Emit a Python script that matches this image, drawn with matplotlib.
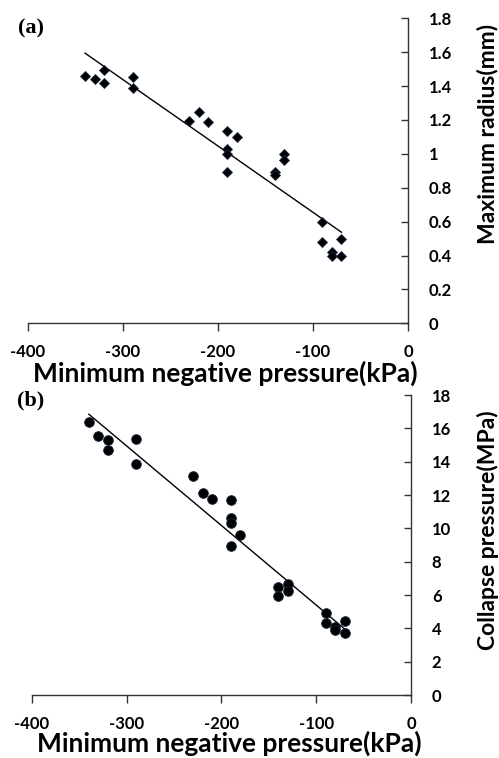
import numpy as np
import matplotlib
matplotlib.use('Agg')
from matplotlib import pyplot as plt

# Minimum negative pressure (kPa)
pressure_a = [-340, -330, -320, -320, -290, -290, -230, -220, -210, -190, -190,
              -190, -190, -180, -140, -140, -130, -130, -90, -90, -80, -80, -70, -70]
# Maximum bubble radius (mm)
radius = [1.46, 1.44, 1.495, 1.42, 1.455, 1.39, 1.195, 1.245, 1.19, 1.135, 1.03,
          1.00, 0.895, 1.10, 0.895, 0.875, 0.999, 0.965, 0.596, 0.478, 0.423,
          0.397, 0.50, 0.397]

pressure_b = [-340, -330, -320, -320, -290, -290, -230, -220, -210, -190, -190,
              -190, -190, -180, -140, -140, -130, -130, -90, -90, -80, -80, -70, -70]
# Collapse pressure (MPa)
collapse = [16.36, 15.56, 15.30, 14.68, 15.36, 13.86, 13.14, 12.14, 11.78, 11.68,
            10.60, 10.34, 8.96, 9.62, 6.50, 5.96, 6.64, 6.26, 4.90, 4.30, 4.10,
            3.90, 4.46, 3.74]

xticks = [-400, -300, -200, -100, 0]
yticks_a = [0, 0.2, 0.4, 0.6, 0.8, 1, 1.2, 1.4, 1.6, 1.8]
ytick_labels_a = ['0', '0.2', '0.4', '0.6', '0.8', '1', '1.2', '1.4', '1.6', '1.8']
yticks_b = [0, 2, 4, 6, 8, 10, 12, 14, 16, 18]

font = 'Lato'
W, H = 499, 758
fig = plt.figure(figsize=(W / 100, H / 100), dpi=100)


def panel(rect, x, y, marker, ms, yticks, yticklabels, ylim, ylabel, tag,
          xlab_y, ylab_xy):
    ax = fig.add_axes(rect)
    ax.plot(x, y, lw=0, marker=marker, ms=ms, color='black',
            markeredgecolor='#1c2a44', markeredgewidth=0.6, zorder=3)

    # linear trend line over the data range
    k, b = np.polyfit(x, y, 1)
    xs = np.array([min(x), max(x)])
    ax.plot(xs, k * xs + b, color='black', lw=1.0, zorder=2)

    ax.set_xlim(-400, 0)
    ax.set_ylim(*ylim)
    for s in ['left', 'top']:
        ax.spines[s].set_visible(False)
    for s in ['right', 'bottom']:
        ax.spines[s].set_linewidth(1.0)
        ax.spines[s].set_color('#333333')

    ax.set_xticks(xticks)
    ax.set_xticklabels([str(v) for v in xticks], fontfamily=font,
                       fontweight='bold', fontsize=12)
    ax.yaxis.tick_right()
    ax.set_yticks(yticks)
    ax.set_yticklabels(yticklabels, fontfamily=font, fontweight='bold',
                       fontsize=12)
    ax.tick_params(axis='x', direction='out', length=6, width=1.0,
                   color='#333333', pad=9)
    ax.tick_params(axis='y', direction='in', length=5, width=1.0,
                   color='#333333', pad=15)

    ax.set_xlabel('Minimum negative pressure(kPa)', fontfamily=font,
                  fontweight='bold', fontsize=19, va='center')
    ax.xaxis.set_label_coords(0.52, xlab_y)
    ax.yaxis.set_label_position('right')
    ax.set_ylabel(ylabel, fontfamily=font, fontweight='bold', fontsize=16.5,
                  rotation=90, va='center', ha='center')
    ax.yaxis.set_label_coords(*ylab_xy)
    ax.text(tag[1], tag[2], tag[0], transform=ax.transAxes,
            fontfamily='Liberation Serif', fontweight='bold', fontsize=16,
            ha='center', va='center')
    return ax


panel([28 / W, 1 - 323.3 / H, 380 / W, 305 / H], pressure_a, radius, 'D', 5.2,
      yticks_a, ytick_labels_a, (0, 1.8), 'Maximum radius(mm)',
      ('(a)', 0.008, 0.965), -0.163, (1.21, 0.62))
panel([32 / W, 1 - 695 / H, 379 / W, 300 / H], pressure_b, collapse, 'o', 7,
      yticks_b, [str(v) for v in yticks_b], (0, 18), 'Collapse pressure(MPa)',
      ('(b)', -0.003, 0.983), -0.16, (1.203, 0.55))

fig.savefig('out.png', dpi=100)
